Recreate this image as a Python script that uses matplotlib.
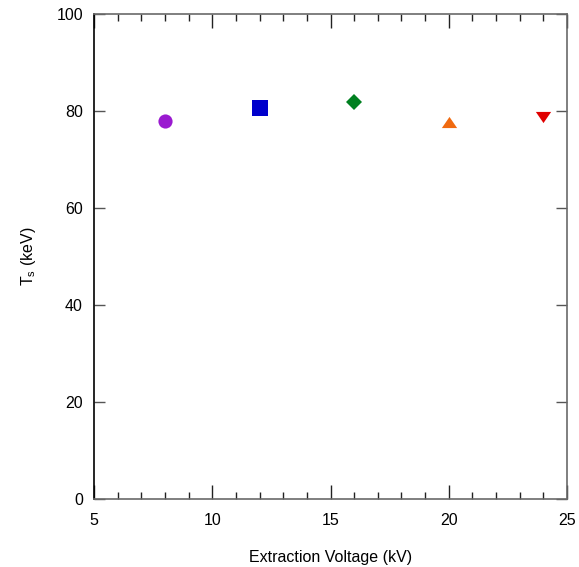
import matplotlib
matplotlib.use("Agg")
import matplotlib.pyplot as plt
from matplotlib.ticker import MultipleLocator

plt.rcParams['font.family'] = ['Liberation Sans', 'DejaVu Sans']

# Extraction voltage (kV) and measured temperature T_s (keV)
voltages = [8, 12, 16, 20, 24]
temps = [77.9, 80.7, 81.9, 77.7, 78.8]
colors = ['#9a1ad0', '#0000cc', '#008020', '#f06a10', '#e00000']

tri_up = [(0, 0.73), (-1, -0.73), (1, -0.73)]
tri_down = [(0, -0.73), (-1, 0.73), (1, 0.73)]
markers = ['o', 's', 'D', tri_up, tri_down]
sizes = [10.2, 11.0, 8.4, 11.0, 11.0]

fig = plt.figure(figsize=(5.79, 5.67), dpi=100)
ax = fig.add_axes([94 / 579, 1 - 499 / 567, 473 / 579, 485 / 567])

for x, y, c, m, s in zip(voltages, temps, colors, markers, sizes):
    ax.plot([x], [y], linestyle='none', marker=m, markersize=s,
            color=c, markeredgewidth=0, clip_on=False)

ax.set_xlim(5, 25)
ax.set_ylim(0, 100)
ax.xaxis.set_major_locator(MultipleLocator(5))
ax.xaxis.set_minor_locator(MultipleLocator(1))
ax.yaxis.set_major_locator(MultipleLocator(20))

ax.tick_params(axis='x', which='major', direction='in', length=10, width=1,
               top=True, bottom=True, labelsize=11.5, pad=10, color='#222222')
ax.tick_params(axis='x', which='minor', direction='in', length=5, width=1,
               top=True, bottom=True, color='#222222')
ax.tick_params(axis='y', which='major', direction='in', length=8, width=1,
               left=True, right=True, labelsize=11.5, pad=8, color='#555555')

for side in ['top', 'right', 'bottom']:
    ax.spines[side].set_color('#6a6a6a')
    ax.spines[side].set_linewidth(1.2)
ax.spines['left'].set_color('black')
ax.spines['left'].set_linewidth(1.2)

ax.set_xlabel('Extraction Voltage (kV)', fontsize=11.5, labelpad=16)
ax.set_ylabel(r'T$_{\mathregular{s}}$ (keV)', fontsize=11.5, labelpad=13)

fig.savefig('out.png', dpi=100)
